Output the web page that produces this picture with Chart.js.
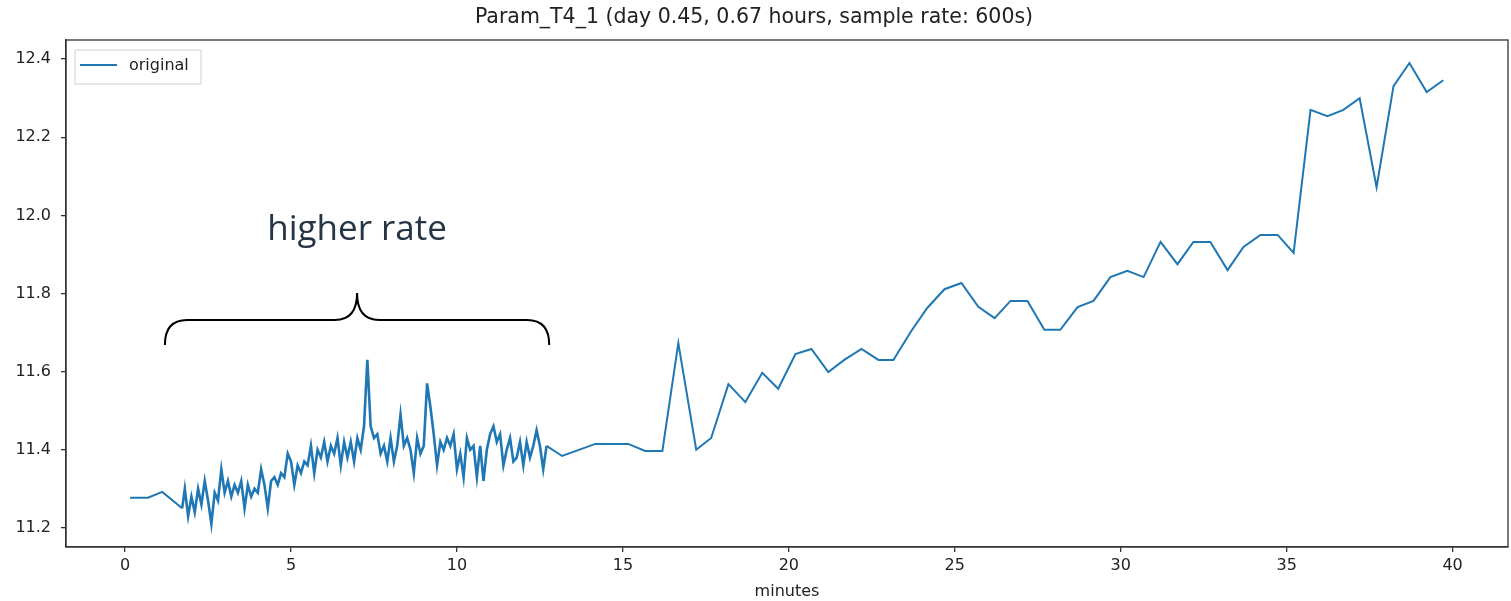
<!DOCTYPE html>
<html>
<head>
<meta charset="utf-8">
<script src="https://cdn.jsdelivr.net/npm/chart.js@4"></script>
<style>
  body { margin: 0; background: #fff; }
  #wrap { width: 1511px; height: 601px; }
</style>
</head>
<body>
<div id="wrap"><canvas id="paramChart" width="1511" height="601"></canvas></div>
<script>
// slow samples before the burst
const startTimes = [0.15, 0.69, 1.12];
const startValues = [11.277, 11.277, 11.292];

// higher rate burst
const burstTimes = [1.72, 1.8, 1.9, 2.0, 2.1, 2.2, 2.3, 2.4, 2.5, 2.6, 2.7, 2.8, 2.9,
  3.0, 3.1, 3.2, 3.3, 3.4, 3.5, 3.6, 3.7, 3.8, 3.9, 4.0, 4.1, 4.2, 4.3, 4.4, 4.5, 4.6,
  4.7, 4.8, 4.9, 5.0, 5.1, 5.2, 5.3, 5.4, 5.5, 5.6, 5.7, 5.8, 5.9, 6.0, 6.1, 6.2, 6.3,
  6.4, 6.5, 6.6, 6.7, 6.8, 6.9, 7.0, 7.1, 7.2, 7.3, 7.4, 7.5, 7.6, 7.7, 7.8, 7.9, 8.0,
  8.1, 8.2, 8.3, 8.4, 8.5, 8.6, 8.7, 8.8, 8.9, 9.0, 9.1, 9.2, 9.3, 9.4, 9.5, 9.6, 9.7,
  9.8, 9.9, 10.0, 10.1, 10.2, 10.3, 10.4, 10.5, 10.6, 10.7, 10.8, 10.9, 11.0, 11.1, 11.2,
  11.3, 11.4, 11.5, 11.6, 11.7, 11.8, 11.9, 12.0, 12.1, 12.2, 12.3, 12.4, 12.5, 12.6, 12.7];
const burstValues = [11.25, 11.30, 11.23, 11.28, 11.24, 11.30, 11.26, 11.32, 11.27, 11.21, 11.29, 11.27, 11.35,
  11.29, 11.32, 11.28, 11.31, 11.29, 11.32, 11.25, 11.31, 11.28, 11.30, 11.29, 11.35, 11.31, 11.25, 11.32, 11.33, 11.31,
  11.34, 11.33, 11.39, 11.37, 11.31, 11.36, 11.34, 11.37, 11.36, 11.41, 11.34, 11.40, 11.38, 11.42, 11.37, 11.41, 11.39,
  11.43, 11.36, 11.42, 11.38, 11.42, 11.37, 11.43, 11.40, 11.46, 11.63, 11.46, 11.43, 11.44, 11.39, 11.41, 11.37, 11.43,
  11.37, 11.41, 11.49, 11.41, 11.43, 11.40, 11.34, 11.43, 11.39, 11.41, 11.57, 11.51, 11.44, 11.36, 11.42, 11.40, 11.43,
  11.41, 11.44, 11.35, 11.39, 11.33, 11.43, 11.40, 11.41, 11.33, 11.41, 11.32, 11.40, 11.44, 11.46, 11.42,
  11.44, 11.36, 11.40, 11.43, 11.37, 11.38, 11.42, 11.36, 11.42, 11.38, 11.41, 11.45, 11.41, 11.35, 11.41];

// regular 600s samples afterwards
const slowTimes = [13.17, 14.17, 15.16, 15.67, 16.19, 16.67, 17.21, 17.66, 18.18, 18.69, 19.2, 19.68,
  20.2, 20.68, 21.19, 21.67, 22.19, 22.7, 23.15, 23.69, 24.17, 24.69, 25.2, 25.71, 26.2, 26.68,
  27.19, 27.7, 28.18, 28.7, 29.18, 29.69, 30.2, 30.69, 31.2, 31.71, 32.19, 32.7, 33.22, 33.7,
  34.21, 34.73, 35.21, 35.72, 36.23, 36.71, 37.2, 37.71, 38.22, 38.7, 39.22, 39.72];
const slowValues = [11.384, 11.415, 11.415, 11.397, 11.397, 11.673, 11.40, 11.43, 11.568, 11.522, 11.597, 11.556,
  11.645, 11.658, 11.599, 11.63, 11.658, 11.63, 11.63, 11.704, 11.763, 11.811, 11.827, 11.766, 11.737, 11.781,
  11.781, 11.707, 11.707, 11.765, 11.781, 11.842, 11.858, 11.842, 11.932, 11.875, 11.932, 11.932, 11.86, 11.919,
  11.95, 11.95, 11.904, 12.27, 12.254, 12.27, 12.30, 12.072, 12.331, 12.39, 12.316, 12.346];

const xTicks = [0, 5, 10, 15, 20, 25, 30, 35, 40];
const yTicks = [11.2, 11.4, 11.6, 11.8, 12.0, 12.2, 12.4];

const allTimes = startTimes.concat(burstTimes, slowTimes);
const allValues = startValues.concat(burstValues, slowValues);
const points = allTimes.map((t, i) => ({ x: t, y: allValues[i] }));
const burstEnd = startTimes.length + burstTimes.length - 1;

const lineColor = '#1f77b4';
const axisColor = '#333';

// box round the plot, legend inside it, brace + label
const extras = {
  id: 'extras',
  afterDraw(chart) {
    const { ctx, chartArea: a, scales } = chart;
    const xs = scales.x, ys = scales.y;
    ctx.save();
    ctx.strokeStyle = axisColor;
    ctx.lineWidth = 1.3;
    ctx.strokeRect(a.left, a.top, a.right - a.left, a.bottom - a.top);

    // legend
    const lx = a.left + 9, ly = a.top + 10;
    ctx.fillStyle = 'rgba(255,255,255,0.8)';
    ctx.strokeStyle = '#d0d0d0';
    ctx.lineWidth = 1;
    ctx.beginPath();
    ctx.rect(lx, ly, 126, 34);
    ctx.fill();
    ctx.stroke();
    ctx.strokeStyle = lineColor;
    ctx.lineWidth = 2;
    ctx.beginPath();
    ctx.moveTo(lx + 5, ly + 15);
    ctx.lineTo(lx + 42, ly + 15);
    ctx.stroke();
    ctx.fillStyle = '#222';
    ctx.font = '16px "DejaVu Sans"';
    ctx.textBaseline = 'middle';
    ctx.textAlign = 'left';
    ctx.fillText('original', lx + 54, ly + 16);

    // curly brace over the burst
    const xl = xs.getPixelForValue(1.2), xr = xs.getPixelForValue(12.78), xc = xs.getPixelForValue(6.99);
    const yb = ys.getPixelForValue(11.668), ym = ys.getPixelForValue(11.732), yt = ys.getPixelForValue(11.801);
    const r = 22;
    ctx.strokeStyle = '#000';
    ctx.lineWidth = 2;
    ctx.beginPath();
    ctx.moveTo(xl, yb);
    ctx.quadraticCurveTo(xl, ym, xl + r, ym);
    ctx.lineTo(xc - r, ym);
    ctx.quadraticCurveTo(xc, ym, xc, yt);
    ctx.quadraticCurveTo(xc, ym, xc + r, ym);
    ctx.lineTo(xr - r, ym);
    ctx.quadraticCurveTo(xr, ym, xr, yb);
    ctx.stroke();

    ctx.fillStyle = '#263545';
    ctx.font = '35px "Open Sans"';
    ctx.textAlign = 'center';
    ctx.textBaseline = 'middle';
    ctx.fillText('higher rate', xc, ys.getPixelForValue(11.962));
    ctx.restore();
  }
};

new Chart(document.getElementById('paramChart'), {
  type: 'line',
  data: {
    datasets: [{
      label: 'original',
      data: points,
      borderColor: lineColor,
      borderWidth: 2,
      pointRadius: 0,
      tension: 0,
      fill: false,
      segment: {
        // dense part looks heavier in the original
        borderWidth: c => (c.p0DataIndex >= startTimes.length && c.p1DataIndex <= burstEnd) ? 2.6 : 2
      }
    }]
  },
  options: {
    responsive: false,
    animation: false,
    layout: { padding: { left: 0, right: 3, top: 0, bottom: 0 } },
    plugins: {
      legend: { display: false },
      tooltip: { enabled: false },
      title: {
        display: true,
        text: 'Param_T4_1 (day 0.45, 0.67 hours, sample rate: 600s)',
        color: '#222',
        font: { family: 'DejaVu Sans', size: 20.5, weight: 'normal' },
        padding: { top: 5, bottom: 10.4 }
      }
    },
    scales: {
      x: {
        type: 'linear',
        min: -1.78,
        max: 41.67,
        afterBuildTicks: s => { s.ticks = xTicks.map(v => ({ value: v })); },
        afterFit: s => { s.height = 54; },
        grid: { drawOnChartArea: false, drawTicks: true, tickLength: 5, color: axisColor, lineWidth: 1.3 },
        border: { display: true, color: axisColor, width: 1.3 },
        ticks: { color: '#222', font: { family: 'DejaVu Sans', size: 16 }, padding: 4, maxRotation: 0 },
        title: {
          display: true, text: 'minutes', color: '#222',
          font: { family: 'DejaVu Sans', size: 16 }, padding: { top: 0, bottom: 0 }
        }
      },
      y: {
        min: 11.151,
        max: 12.449,
        afterBuildTicks: s => { s.ticks = yTicks.map(v => ({ value: v })); },
        afterFit: s => { s.width = 66; },
        grid: { drawOnChartArea: false, drawTicks: true, tickLength: 5, color: axisColor, lineWidth: 1.3 },
        border: { display: true, color: axisColor, width: 1.3 },
        ticks: {
          color: '#222', font: { family: 'DejaVu Sans', size: 16 }, padding: 10,
          callback: v => v.toFixed(1)
        }
      }
    }
  },
  plugins: [extras]
});
</script>
</body>
</html>
